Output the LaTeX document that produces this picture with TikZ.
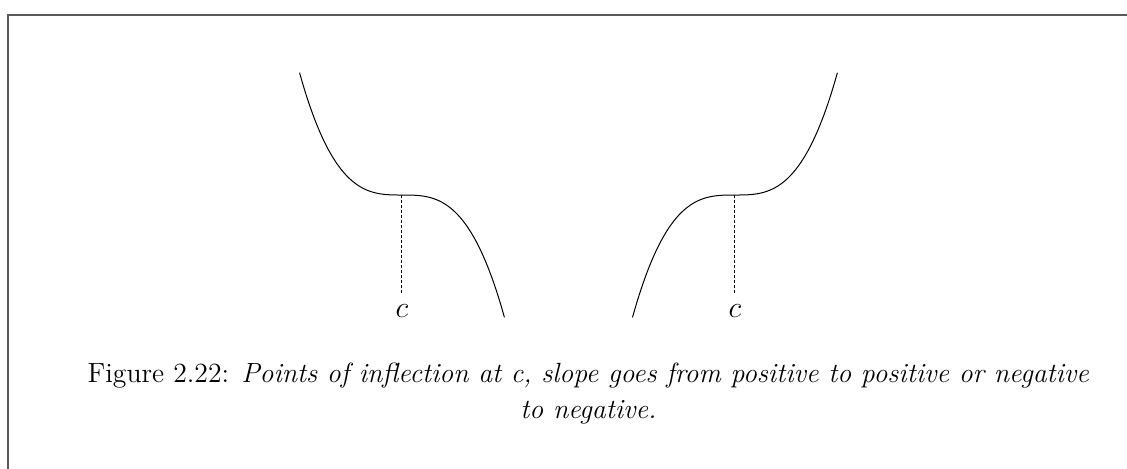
\documentclass[tikz,border=0pt]{standalone}
\usepackage{amsmath,amssymb}
\usepackage{fontspec}
\usepackage{tikz}
\usetikzlibrary{positioning, calc}

\begin{document}
\begin{tikzpicture}[font=\fontsize{11.1}{14.4}\selectfont]
    \useasboundingbox (-7.99,-3.837) rectangle (7.85,2.741);
    \draw[black!65, line width=0.8pt] (-7.88,-3.9) -- (-7.88,2.53) -- (7.9,2.53);
    % slope negative on both sides of c
    \coordinate (inflA) at (-2.34,0);
    \draw[thin] plot[domain=-1.44:1.44, samples=80, smooth] ({-2.34+\x}, {-1.72*(\x/1.44)^3});
    \node[anchor=base, inner sep=4pt, font=\fontsize{12}{14}\selectfont] (labelA) at (-2.34,-1.715) {$c$};
    \draw[dash pattern=on 1.2pt off 0.8pt] (inflA) -- (labelA.north);
    % slope positive on both sides of c
    \coordinate (inflB) at (2.34,0);
    \draw[thin] plot[domain=-1.44:1.44, samples=80, smooth] ({2.34+\x}, {1.72*(\x/1.44)^3});
    \node[anchor=base, inner sep=4pt, font=\fontsize{12}{14}\selectfont] (labelB) at (2.34,-1.715) {$c$};
    \draw[dash pattern=on 1.2pt off 0.8pt] (inflB) -- (labelB.north);
    \node[text width=15cm, align=flush center, anchor=base] (caption) at (0.28,-2.63)
        {Figure 2.22: \textit{Points of inflection at c, slope goes from positive to positive or negative}\\
         \textit{to negative.}};
\end{tikzpicture}
\end{document}
